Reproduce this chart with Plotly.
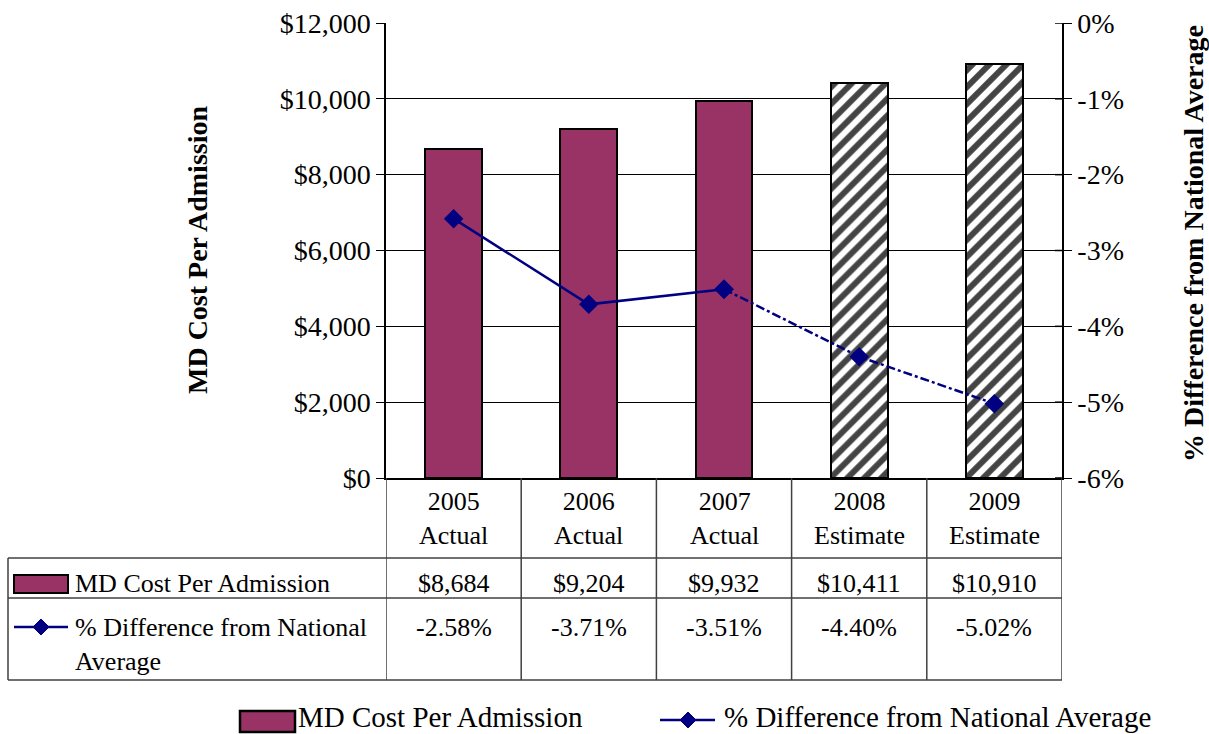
import plotly.graph_objects as go

years = ["2005", "2006", "2007", "2008", "2009"]
status = ["Actual", "Actual", "Actual", "Estimate", "Estimate"]
cost = [8684, 9204, 9932, 10411, 10910]
pct_diff = [-2.58, -3.71, -3.51, -4.40, -5.02]
estimated = [False, False, False, True, True]

W, H = 1209, 734
FONT = "Liberation Serif"
MAROON = "#993366"
NAVY = "#000080"


def px_x(v):
    return v / W


def px_y(v):
    return 1 - v / H


cats = [f"{y} {s}" for y, s in zip(years, status)]

fig = go.Figure()

fig.add_trace(go.Bar(
    x=cats, y=cost, width=0.42, name="MD Cost Per Admission",
    marker=dict(
        color=["white" if e else MAROON for e in estimated],
        line=dict(color="black", width=2),
        pattern=dict(shape=["/" if e else "" for e in estimated],
                     fgcolor="#444444", fgopacity=1, bgcolor="white",
                     size=12, solidity=0.5),
    ),
    showlegend=False,
))

# actual years solid, estimates dash-dot
fig.add_trace(go.Scatter(
    x=cats[:3], y=pct_diff[:3], yaxis="y2", mode="lines+markers",
    line=dict(color=NAVY, width=2.5),
    marker=dict(symbol="diamond", size=15, color=NAVY),
    showlegend=False,
))
fig.add_trace(go.Scatter(
    x=cats[2:], y=pct_diff[2:], yaxis="y2", mode="lines+markers",
    line=dict(color=NAVY, width=2.5, dash="dashdot"),
    marker=dict(symbol="diamond", size=15, color=NAVY),
    showlegend=False,
))

shapes = []
annotations = []
line_col = "#404040"

# data table grid
for yy in [558, 598, 680]:
    shapes.append(dict(type="line", xref="paper", yref="paper",
                       x0=px_x(8), x1=px_x(1062), y0=px_y(yy), y1=px_y(yy),
                       line=dict(color=line_col, width=1.5)))
shapes.append(dict(type="line", xref="paper", yref="paper",
                   x0=px_x(8), x1=px_x(8), y0=px_y(558), y1=px_y(680),
                   line=dict(color=line_col, width=1.5)))
for i in range(len(cats) + 1):
    shapes.append(dict(type="line", xref="x", yref="paper",
                       x0=i - 0.5, x1=i - 0.5, y0=px_y(478), y1=px_y(680),
                       line=dict(color=line_col, width=1.5)))

# right axis ticks also cross inside
for v in [0, -1, -2, -3, -4, -5, -6]:
    shapes.append(dict(type="line", xref="paper", yref="y2",
                       x0=px_x(1055), x1=px_x(1062), y0=v, y1=v,
                       line=dict(color="black", width=1.5)))

tf = dict(family=FONT, size=26, color="black")
for i, c in enumerate(cats):
    annotations.append(dict(x=c, xref="x", y=px_y(518), yref="paper",
                            text=f"{years[i]}<br>{status[i]}", showarrow=False,
                            font=tf, xanchor="center", yanchor="middle"))
    annotations.append(dict(x=c, xref="x", y=px_y(583), yref="paper",
                            text=f"${cost[i]:,}", showarrow=False, font=tf,
                            xanchor="center", yanchor="middle"))
    annotations.append(dict(x=c, xref="x", y=px_y(627), yref="paper",
                            text=f"{pct_diff[i]:.2f}%", showarrow=False, font=tf,
                            xanchor="center", yanchor="middle"))

# row labels with keys
annotations.append(dict(x=px_x(73), xref="paper", y=px_y(583), yref="paper",
                        text="MD Cost Per Admission", showarrow=False, font=tf,
                        xanchor="left", yanchor="middle"))
annotations.append(dict(x=px_x(73), xref="paper", y=px_y(644), yref="paper",
                        text="% Difference from National<br>Average", showarrow=False,
                        font=tf, xanchor="left", yanchor="middle", align="left"))
shapes.append(dict(type="rect", xref="paper", yref="paper",
                   x0=px_x(14), x1=px_x(68), y0=px_y(575), y1=px_y(593),
                   fillcolor=MAROON, line=dict(color="black", width=2)))
shapes.append(dict(type="line", xref="paper", yref="paper",
                   x0=px_x(14), x1=px_x(68), y0=px_y(627), y1=px_y(627),
                   line=dict(color=NAVY, width=2.5)))
shapes.append(dict(type="path", xref="paper", yref="paper",
                   path=f"M {px_x(41)},{px_y(619)} L {px_x(49)},{px_y(627)} "
                        f"L {px_x(41)},{px_y(635)} L {px_x(33)},{px_y(627)} Z",
                   fillcolor=NAVY, line=dict(color=NAVY, width=1)))

# bottom legend
lf = dict(family=FONT, size=29, color="black")
shapes.append(dict(type="rect", xref="paper", yref="paper",
                   x0=px_x(240), x1=px_x(295), y0=px_y(711), y1=px_y(732),
                   fillcolor=MAROON, line=dict(color="black", width=2.5)))
annotations.append(dict(x=px_x(297), xref="paper", y=0, yref="paper",
                        text="MD Cost Per Admission", showarrow=False, font=lf,
                        xanchor="left", yanchor="bottom", borderpad=0))
shapes.append(dict(type="line", xref="paper", yref="paper",
                   x0=px_x(660), x1=px_x(715), y0=px_y(720), y1=px_y(720),
                   line=dict(color=NAVY, width=2.5)))
shapes.append(dict(type="path", xref="paper", yref="paper",
                   path=f"M {px_x(688)},{px_y(712)} L {px_x(696)},{px_y(720)} "
                        f"L {px_x(688)},{px_y(728)} L {px_x(680)},{px_y(720)} Z",
                   fillcolor=NAVY, line=dict(color=NAVY, width=1)))
annotations.append(dict(x=px_x(723), xref="paper", y=0, yref="paper",
                        text="% Difference from National Average", showarrow=False,
                        font=lf, xanchor="left", yanchor="bottom", borderpad=0))

# axis titles
annotations.append(dict(x=px_x(197), xref="paper", y=px_y(250), yref="paper",
                        text="<b>MD Cost Per Admission</b>", textangle=-90,
                        xanchor="center", yanchor="middle",
                        showarrow=False, font=dict(family=FONT, size=28, color="black")))
annotations.append(dict(x=px_x(1193), xref="paper", y=px_y(244), yref="paper",
                        text="<b>% Difference from National Average</b>", textangle=-90,
                        xanchor="center", yanchor="middle",
                        showarrow=False, font=dict(family=FONT, size=28, color="black")))

fig.update_layout(
    width=W, height=H,
    margin=dict(l=0, r=0, t=0, b=0, autoexpand=False),
    paper_bgcolor="white", plot_bgcolor="white",
    font=dict(family=FONT, color="black"),
    bargap=0,
    xaxis=dict(type="category", range=[-0.5, 4.5], domain=[px_x(386), px_x(1062)],
               showticklabels=False, ticks="", showline=True, linecolor="black",
               linewidth=1.5, showgrid=False, automargin=False),
    yaxis=dict(range=[0, 12000], dtick=2000, tickprefix="$", tickformat=",d",
               domain=[px_y(478), px_y(23)], showline=True, linecolor="black",
               linewidth=1.5, ticks="outside", ticklen=8, tickcolor="black",
               showgrid=True, gridcolor="black", gridwidth=1, zeroline=False,
               automargin=False,
               tickfont=dict(family=FONT, size=28, color="black")),
    yaxis2=dict(overlaying="y", side="right", anchor="x", range=[-6, 0],
                tickvals=[0, -1, -2, -3, -4, -5, -6],
                ticktext=["0%", "-1%", "-2%", "-3%", "-4%", "-5%", "-6%"],
                showline=True, linecolor="black", linewidth=1.5, ticks="outside",
                ticklen=8, tickcolor="black", showgrid=False, zeroline=False,
                automargin=False,
                tickfont=dict(family=FONT, size=28, color="black")),
    shapes=shapes,
    annotations=annotations,
)

fig.write_html("out.html", config={"displayModeBar": False},
               post_script="document.body.style.margin='0';")
